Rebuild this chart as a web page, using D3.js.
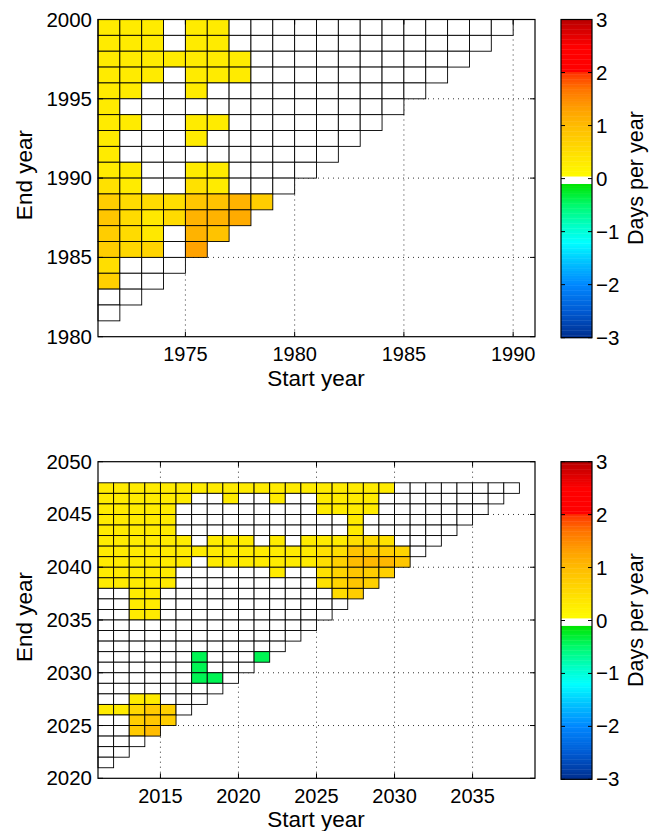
<!DOCTYPE html>
<html>
<head>
<meta charset="utf-8">
<script src="https://cdn.jsdelivr.net/npm/d3@7"></script>
<style>
  html, body { margin: 0; padding: 0; background: #fff; }
  svg text { font-family: "Liberation Sans", Arial, Helvetica, sans-serif; fill: #000; }
</style>
</head>
<body>
<svg id="chart" width="655" height="831"></svg>
<script>
// Trend (days per year) for every start/end year pair; null = not significant.
const _ = null;

// Panel 1: start years from 1971, end years 1999 down to 1981
const startYears1 = d3.range(1971, 1990);
const endYears1 = d3.range(1999, 1980, -1);
const trends1 = [
  [.3,.3,.3,_,.3,.3,_,_,_,_,_,_,_,_,_,_,_,_,_],
  [.3,.3,.3,_,.3,.3,_,_,_,_,_,_,_,_,_,_,_,_],
  [.3,.3,.3,.3,.3,.3,.3,_,_,_,_,_,_,_,_,_,_],
  [.3,.3,.3,_,.3,.3,.3,_,_,_,_,_,_,_,_,_],
  [.3,.3,_,_,.3,_,_,_,_,_,_,_,_,_,_],
  [.3,_,_,_,_,_,_,_,_,_,_,_,_,_],
  [.3,.3,_,_,.3,.3,_,_,_,_,_,_,_],
  [.3,_,_,_,.3,_,_,_,_,_,_,_],
  [.3,_,_,_,_,_,_,_,_,_,_],
  [.3,.3,_,_,.3,.3,_,_,_,_],
  [.45,.3,_,_,.45,.3,_,_,_],
  [.75,.55,.55,.5,.85,.9,1.1,.75],
  [.85,.55,.35,.55,1.1,1.1,1.2],
  [.75,.55,.35,_,1.1,.9],
  [.75,.6,.65,_,1.3],
  [.5,_,_,_],
  [.7,_,_],
  [_,_],
  [_]
];

// Panel 2: start years from 2011, end years 2047 down to 2021
const startYears2 = d3.range(2011, 2038);
const endYears2 = d3.range(2047, 2020, -1);
const trends2 = [
  [.3,.3,.3,.3,.3,.3,.3,.3,.3,.3,.3,.3,.3,.3,.3,.3,.3,.3,.3,_,_,_,_,_,_,_,_],
  [.3,.3,.3,.3,.3,.3,_,_,.3,_,_,.3,_,_,.3,.3,.3,.3,_,_,_,_,_,_,_,_],
  [.3,.3,.3,.3,.3,_,_,_,_,_,_,_,_,_,.3,.3,.3,.3,_,_,_,_,_,_,_],
  [.3,.3,.3,.3,.3,_,_,_,_,_,_,_,_,_,_,_,.3,_,_,_,_,_,_,_],
  [.3,.3,.3,.3,.3,_,_,_,_,_,_,_,_,_,_,_,.3,_,_,_,_,_,_],
  [.3,.3,.3,.3,.3,.3,_,.3,.3,.3,_,.3,_,.3,.3,.3,.5,.55,.45,_,_,_],
  [.3,.3,.3,.3,.3,.3,.3,.3,.3,.3,.3,.3,.3,.3,.45,.5,.9,.75,.75,.65,_],
  [.3,.3,.3,.3,.3,.3,_,.3,.3,.3,.3,.3,.3,.3,.5,.7,1.0,1.05,1.05,.85],
  [.3,.3,.3,.3,.3,_,_,_,_,_,_,.3,_,_,.45,.65,.85,.75,.7],
  [.3,.3,.3,.3,.3,_,_,_,_,_,_,_,_,_,.45,.65,.85,.7],
  [_,_,.3,.3,_,_,_,_,_,_,_,_,_,_,_,.55,.75],
  [_,_,.3,.3,_,_,_,_,_,_,_,_,_,_,_,_],
  [_,_,.3,.3,_,_,_,_,_,_,_,_,_,_,_],
  [_,_,_,_,_,_,_,_,_,_,_,_,_,_],
  [_,_,_,_,_,_,_,_,_,_,_,_,_],
  [_,_,_,_,_,_,_,_,_,_,_,_],
  [_,_,_,_,_,_,-.4,_,_,_,-.4],
  [_,_,_,_,_,_,-.4,_,_,_],
  [_,_,_,_,_,_,-.4,-.4,_],
  [_,_,_,_,_,_,_,_],
  [_,_,.3,.3,_,_,_],
  [.3,.3,.6,.8,.7,_],
  [_,_,.75,.85,.75],
  [_,_,.8,1.0],
  [_,_,_],
  [_,_],
  [_]
];

// Axis ticks
const xTicks1 = [1975, 1980, 1985, 1990];
const yTicks1 = [1980, 1985, 1990, 1995, 2000];
const xTicks2 = [2015, 2020, 2025, 2030, 2035];
const yTicks2 = [2020, 2025, 2030, 2035, 2040, 2045, 2050];
const cbTicks = [3, 2, 1, 0, -1, -2, -3];

// Diverging colour map with a blank band around zero
const cmapStops = [
  [-3.0, "rgb(0,45,140)"],
  [-2.5, "rgb(0,90,210)"],
  [-2.0, "rgb(0,135,255)"],
  [-1.6, "rgb(0,190,255)"],
  [-1.2, "rgb(0,255,255)"],
  [-0.9, "rgb(0,255,200)"],
  [-0.5, "rgb(0,250,110)"],
  [-0.1, "rgb(0,228,0)"],
  [0.07, "rgb(255,250,0)"],
  [0.5, "rgb(255,222,0)"],
  [1.0, "rgb(255,188,0)"],
  [1.3, "rgb(255,162,0)"],
  [1.7, "rgb(255,115,0)"],
  [1.99, "rgb(255,55,0)"],
  [2.01, "rgb(255,0,0)"],
  [2.5, "rgb(255,0,0)"],
  [3.0, "rgb(185,0,0)"]
];
const negScale = d3.scaleLinear()
  .domain(cmapStops.slice(0, 8).map(d => d[0]))
  .range(cmapStops.slice(0, 8).map(d => d[1]))
  .interpolate(d3.interpolateRgb).clamp(true);
const posScale = d3.scaleLinear()
  .domain(cmapStops.slice(8).map(d => d[0]))
  .range(cmapStops.slice(8).map(d => d[1]))
  .interpolate(d3.interpolateRgb).clamp(true);
function colorOf(v) {
  if (v === null) return "#fff";
  if (v > -0.085 && v < 0.07) return "#fff";
  return v < 0 ? negScale(v) : posScale(v);
}

const svg = d3.select("#chart");
svg.append("rect").attr("width", 655).attr("height", 831).attr("fill", "#fff");

const panels = [
  { starts: startYears1, ends: endYears1, trends: trends1,
    xDomain: [1971, 1991], yDomain: [1980, 2000],
    xTicks: xTicks1, yTicks: yTicks1, top: 19.5, bottom: 336.7 },
  { starts: startYears2, ends: endYears2, trends: trends2,
    xDomain: [2011, 2039], yDomain: [2020, 2050],
    xTicks: xTicks2, yTicks: yTicks2, top: 461.7, bottom: 778.3 }
];

const left = 98, right = 535;
const cbLeft = 561, cbRight = 592;

panels.forEach(p => {
  const x = d3.scaleLinear().domain(p.xDomain).range([left, right]);
  const y = d3.scaleLinear().domain(p.yDomain).range([p.bottom, p.top]);
  const g = svg.append("g");

  // dotted grid (beneath the cells)
  const grid = g.append("g").attr("stroke", "#333").attr("stroke-width", 1)
    .attr("stroke-dasharray", "1,4");
  p.xTicks.forEach(t => grid.append("line")
    .attr("x1", x(t)).attr("x2", x(t)).attr("y1", p.top).attr("y2", p.bottom));
  p.yTicks.slice(1, -1).forEach(t => grid.append("line")
    .attr("x1", left).attr("x2", right).attr("y1", y(t)).attr("y2", y(t)));

  // cells
  const cells = [];
  p.trends.forEach((row, i) => {
    row.forEach((v, j) => cells.push({ s: p.starts[j], e: p.ends[i], v }));
  });
  g.append("g").selectAll("rect").data(cells).join("rect")
    .attr("x", d => x(d.s))
    .attr("y", d => y(d.e + 1))
    .attr("width", d => x(d.s + 1) - x(d.s))
    .attr("height", d => y(d.e) - y(d.e + 1))
    .attr("fill", d => colorOf(d.v))
    .attr("stroke", "#000")
    .attr("stroke-width", 0.9);

  // axes box
  g.append("rect").attr("x", left).attr("y", p.top)
    .attr("width", right - left).attr("height", p.bottom - p.top)
    .attr("fill", "none").attr("stroke", "#000").attr("stroke-width", 1.2);

  // inward ticks on all four sides
  const tk = g.append("g").attr("stroke", "#000").attr("stroke-width", 1);
  p.xTicks.forEach(t => {
    tk.append("line").attr("x1", x(t)).attr("x2", x(t)).attr("y1", p.bottom).attr("y2", p.bottom - 5);
    tk.append("line").attr("x1", x(t)).attr("x2", x(t)).attr("y1", p.top).attr("y2", p.top + 5);
  });
  p.yTicks.forEach(t => {
    tk.append("line").attr("x1", left).attr("x2", left + 5).attr("y1", y(t)).attr("y2", y(t));
    tk.append("line").attr("x1", right).attr("x2", right - 5).attr("y1", y(t)).attr("y2", y(t));
  });

  // tick labels
  g.append("g").selectAll("text").data(p.xTicks).join("text")
    .attr("x", d => x(d)).attr("y", p.bottom + 24.5)
    .attr("text-anchor", "middle").attr("font-size", 20)
    .text(d => d);
  g.append("g").selectAll("text").data(p.yTicks).join("text")
    .attr("x", 92).attr("y", d => y(d) + 7)
    .attr("text-anchor", "end").attr("font-size", 20.5)
    .text(d => d);

  // axis titles
  g.append("text").attr("x", (left + right) / 2 - 0.5).attr("y", p.bottom + 49)
    .attr("text-anchor", "middle").attr("font-size", 22.5).text("Start year");
  g.append("text")
    .attr("transform", `translate(32,${(p.top + p.bottom) / 2 - 3}) rotate(-90)`)
    .attr("text-anchor", "middle").attr("font-size", 22.5).text("End year");

  // colour bar
  const cy = d3.scaleLinear().domain([-3, 3]).range([p.bottom + 1, p.top]);
  const steps = d3.range(-3, 3, 6 / 128);
  const cb = g.append("g");
  cb.selectAll("rect").data(steps).join("rect")
    .attr("x", cbLeft).attr("width", cbRight - cbLeft)
    .attr("y", d => cy(d + 6 / 128))
    .attr("height", d => cy(d) - cy(d + 6 / 128) + 0.4)
    .attr("fill", d => colorOf(d + 3 / 128));
  cb.append("rect").attr("x", cbLeft).attr("y", cy(3))
    .attr("width", cbRight - cbLeft).attr("height", cy(-3) - cy(3))
    .attr("fill", "none").attr("stroke", "#000").attr("stroke-width", 1.2);
  const ctk = cb.append("g").attr("stroke", "#000").attr("stroke-width", 1);
  cbTicks.forEach(t => {
    ctk.append("line").attr("x1", cbLeft).attr("x2", cbLeft + 4).attr("y1", cy(t)).attr("y2", cy(t));
    ctk.append("line").attr("x1", cbRight).attr("x2", cbRight - 4).attr("y1", cy(t)).attr("y2", cy(t));
  });
  cb.append("g").selectAll("text").data(cbTicks).join("text")
    .attr("x", 596).attr("y", d => cy(d) + 7)
    .attr("font-size", 20.5)
    .text(d => d < 0 ? "\u2212" + Math.abs(d) : d);
  cb.append("text")
    .attr("transform", `translate(643,${(p.top + p.bottom) / 2}) rotate(-90)`)
    .attr("text-anchor", "middle").attr("font-size", 21.5).text("Days per year");
});
</script>
</body>
</html>
